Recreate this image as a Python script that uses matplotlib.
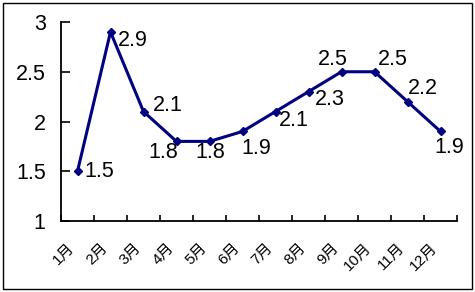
import matplotlib
matplotlib.use('Agg')
import matplotlib.pyplot as plt
from matplotlib.patches import Rectangle
import numpy as np

plt.rcParams['font.family'] = ['Liberation Sans', 'Noto Sans CJK SC', 'DejaVu Sans']

months = ['1月', '2月', '3月', '4月', '5月', '6月',
          '7月', '8月', '9月', '10月', '11月', '12月']
values = [1.5, 2.9, 2.1, 1.8, 1.8, 1.9, 2.1, 2.3, 2.5, 2.5, 2.2, 1.9]

# label offsets in pixels (dx, dy up)
label_offsets = [(22, 0), (22, -8.5), (24, 6.5), (-13, -11.5), (1, -11),
                 (14, -17.5), (18, -8.5), (21.5, -7.5), (-8.5, 12),
                 (18.5, 12), (15.5, 13), (8.5, -16.5)]

W, H = 475, 292
fig = plt.figure(figsize=(W / 100, H / 100), dpi=100)
fig.patch.set_facecolor('white')
fig.patches.append(Rectangle((2.5 / W, 3 / H), 469.5 / W, 286 / H,
                             transform=fig.transFigure, fill=False,
                             edgecolor='black', linewidth=1.0))

ax = fig.add_axes([61 / W, (H - 221) / H, 396 / W, 199 / H])
x = np.arange(len(values))
ax.plot(x, values, color='#000080', linewidth=2.2, marker='D',
        markersize=4, markerfacecolor='#000080', markeredgecolor='#000080')

for xi, v, (dx, dy) in zip(x, values, label_offsets):
    ax.annotate(f'{v:g}', (xi, v), xytext=(dx, dy), textcoords='offset pixels',
                ha='center', va='center', fontsize=15.5, color='black')

ax.set_xlim(-0.5, len(values) - 0.5)
ax.set_ylim(1, 3)
ax.set_yticks([1, 1.5, 2, 2.5, 3])
ax.set_yticklabels(['1', '1.5', '2', '2.5', '3'])
ax.set_xticks(x)
ax.set_xticklabels(months, rotation=45, ha='right', rotation_mode='default')
ax.set_xticks(np.arange(-0.5, len(values)), minor=True)

ax.spines['top'].set_visible(False)
ax.spines['right'].set_visible(False)
for s in ['left', 'bottom']:
    ax.spines[s].set_linewidth(1.3)

ax.tick_params(axis='y', direction='in', length=6.5, width=1.2,
               labelsize=15.5, pad=11)
ax.tick_params(axis='x', which='major', length=0, labelsize=11, pad=14)
ax.tick_params(axis='x', which='minor', direction='in', length=4.5, width=1.2)

fig.savefig('out.png', dpi=100, facecolor='white')
